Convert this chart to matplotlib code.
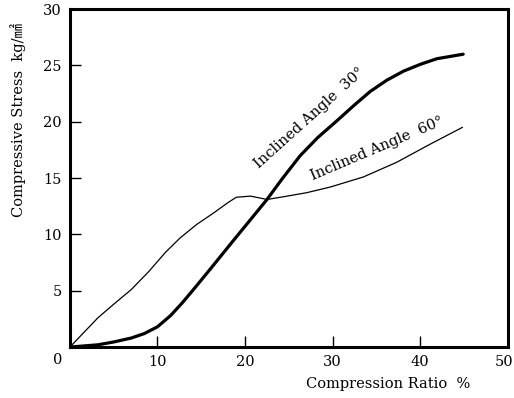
import matplotlib
matplotlib.use("Agg")
import matplotlib.pyplot as plt
import matplotlib.transforms as mtransforms

# Data
x30 = [0, 3.2, 5, 7, 8.5, 10, 11.5, 12.8, 14.1, 16, 18.5, 20.5, 22.5, 24.2, 26.3, 28.3,
       30.5, 32.5, 34.3, 36.2, 38.1, 40, 41.9, 44.9]
y30 = [0, 0.2, 0.45, 0.8, 1.2, 1.8, 2.8, 3.9, 5.1, 6.9, 9.3, 11.2, 13.1, 14.9, 17.0, 18.6,
       20.1, 21.5, 22.7, 23.7, 24.5, 25.1, 25.6, 26.0]

x60 = [0, 3.2, 5, 7, 9, 10.9, 12.6, 14.5, 16.4, 18, 19, 20.6, 21.6, 22.5, 24.8, 27,
       29.7, 33.5, 37.3, 41.1, 44.8]
y60 = [0, 2.6, 3.8, 5.1, 6.7, 8.4, 9.7, 10.9, 11.9, 12.8, 13.3, 13.4, 13.25, 13.1, 13.4, 13.7,
       14.2, 15.1, 16.4, 18.0, 19.5]

xticks = [10, 20, 30, 40, 50]
yticks = [5, 10, 15, 20, 25, 30]

plt.rcParams['font.family'] = ['DejaVu Serif', 'Noto Sans CJK JP']

fig = plt.figure(figsize=(5.14, 3.98), dpi=100)
ax = fig.add_axes([0.136, 0.128, 0.852, 0.849])

ax.plot(x30, y30, color='black', lw=2.3, solid_capstyle='round', solid_joinstyle='round')
ax.plot(x60, y60, color='black', lw=0.9, solid_joinstyle='round')

ax.set_xlim(0, 50)
ax.set_ylim(0, 30)
ax.set_xticks(xticks)
ax.set_yticks(yticks)
ax.tick_params(direction='in', length=8, width=1, labelsize=10.5, pad=6)
for s in ax.spines.values():
    s.set_linewidth(2.2)

# nudge the last x tick label slightly left, as in the reference
fig.canvas.draw()
lbl = ax.get_xticklabels()[-1]
lbl.set_transform(lbl.get_transform() + mtransforms.ScaledTranslation(-4/100, 0, fig.dpi_scale_trans))

fig.text(58/514, 1-360/398, '0', ha='center', va='center', fontsize=10.5)

ax.text(27.4, 20.3, 'Inclined Angle  30°', rotation=42, rotation_mode='anchor',
        ha='center', va='center', fontsize=10.5)
ax.text(35.1, 17.6, 'Inclined Angle  60°', rotation=23, rotation_mode='anchor',
        ha='center', va='center', fontsize=10.5)

fig.text(470/514, 1-384/398, 'Compression Ratio  %', ha='right', va='center', fontsize=10.5)
fig.text(18/514, 1-120/398, 'Compressive Stress  kg/㎟', rotation=90,
         ha='center', va='center', fontsize=10.5)

fig.savefig('out.png', dpi=100)
